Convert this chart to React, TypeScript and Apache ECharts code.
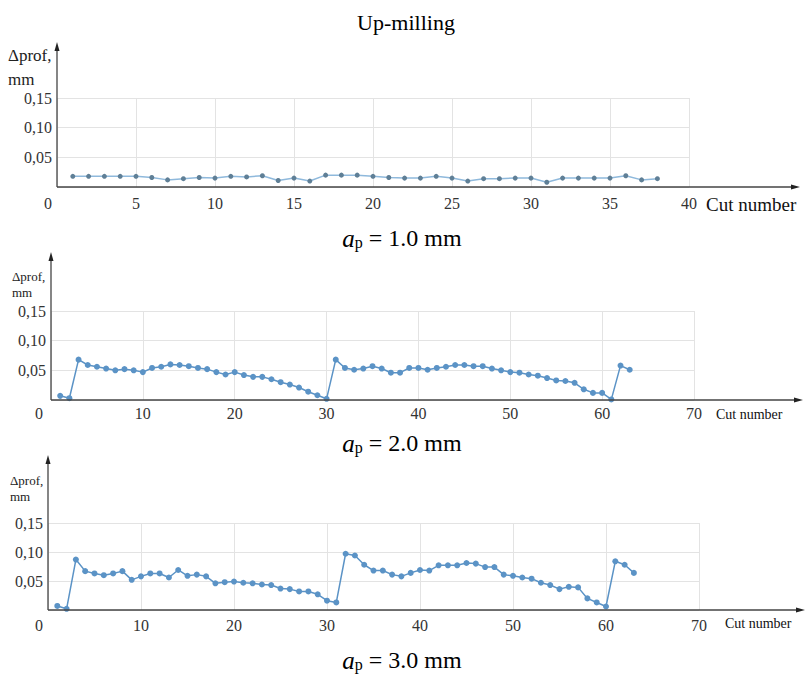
import React, { useEffect, useRef } from "react";
import * as echarts from "echarts";

// ---- Data ----
const cuts1Values = [
  0.018, 0.018, 0.018, 0.018, 0.018, 0.016, 0.012, 0.014, 0.016, 0.015,
  0.018, 0.017, 0.019, 0.011, 0.015, 0.01, 0.02, 0.02, 0.02, 0.018,
  0.016, 0.015, 0.015, 0.018, 0.015, 0.01, 0.014, 0.014, 0.015, 0.015,
  0.008, 0.015, 0.015, 0.015, 0.015, 0.019, 0.012, 0.014,
];
const cuts2Values = [
  0.007, 0.003, 0.068, 0.059, 0.056, 0.053, 0.05, 0.052, 0.05, 0.047,
  0.054, 0.056, 0.06, 0.059, 0.057, 0.054, 0.052, 0.047, 0.043, 0.047,
  0.042, 0.039, 0.039, 0.035, 0.03, 0.026, 0.021, 0.014, 0.008, 0.002,
  0.068, 0.054, 0.051, 0.053, 0.057, 0.053, 0.046, 0.046, 0.054, 0.054,
  0.051, 0.054, 0.056, 0.059, 0.059, 0.057, 0.057, 0.053, 0.05, 0.047,
  0.046, 0.043, 0.041, 0.037, 0.033, 0.032, 0.029, 0.018, 0.012, 0.012,
  0.001, 0.058, 0.051,
];
const cuts3Values = [
  0.007, 0.002, 0.087, 0.067, 0.063, 0.06, 0.063, 0.067, 0.052, 0.058,
  0.063, 0.063, 0.056, 0.069, 0.059, 0.061, 0.058, 0.046, 0.048, 0.049,
  0.047, 0.046, 0.044, 0.043, 0.037, 0.036, 0.032, 0.032, 0.027, 0.016,
  0.013, 0.097, 0.094, 0.078, 0.068, 0.068, 0.061, 0.058, 0.064, 0.069,
  0.068, 0.077, 0.077, 0.077, 0.081, 0.08, 0.074, 0.074, 0.061, 0.059,
  0.056, 0.054, 0.047, 0.043, 0.036, 0.04, 0.039, 0.02, 0.013, 0.006,
  0.084, 0.078, 0.064,
];
const xMax = [40, 70, 70];
const xInterval = [5, 10, 10];
const yTicks = [0, 0.05, 0.1, 0.15];
const title = "Up-milling";
const captions = ["1.0", "2.0", "3.0"];
const yName = ["Δprof,", "mm"];
const xName = "Cut number";

// ---- Layout (decoration only) ----
const FONT = "Liberation Serif";
const grids = [
  { left: 57, top: 98, width: 632, height: 89 },
  { left: 51, top: 311, width: 643, height: 89 },
  { left: 48, top: 523, width: 651, height: 87 },
];
const arrowTop = [42, 252, 455];
const arrowRight = [800, 803, 805];
const zeroPad = [18, 24, 18];
const tickFont = [16, 16, 16];
const xLabelMargin = [8, 5, 7];
const yNamePos = [
  { x: 8, y1: 55, y2: 79, size: 17 },
  { x: 12, y1: 276, y2: 292, size: 13 },
  { x: 10, y1: 480, y2: 496, size: 13 },
];
const xNamePos = [
  { x: 706, y: 204, size: 19 },
  { x: 716, y: 414, size: 14 },
  { x: 725, y: 623, size: 14 },
];
const captionY = [238, 443, 660];

const toPairs = (vals: number[]) => vals.map((v, i) => [i + 1, v]);

export default function App() {
  const ref = useRef<HTMLDivElement>(null);
  useEffect(() => {
    document.body.style.margin = "0";
    const chart = echarts.init(ref.current!, undefined, { renderer: "svg" });
    const allVals = [cuts1Values, cuts2Values, cuts3Values];

    const xAxis = grids.map((_, i) => ({
      type: "value",
      gridIndex: i,
      min: 0,
      max: xMax[i],
      interval: xInterval[i],
      axisLine: { show: false },
      axisTick: { show: false },
      splitLine: { show: true, lineStyle: { color: "#e3e3e3", width: 1 } },
      axisLabel: {
        fontFamily: FONT,
        fontSize: tickFont[i],
        color: "#333",
        margin: xLabelMargin[i],
        formatter: (v: number) => (v === 0 ? "{z|0}" : String(v)),
        rich: {
          z: {
            fontFamily: FONT,
            fontSize: tickFont[i],
            color: "#333",
            padding: [0, zeroPad[i], 0, 0],
          },
        },
      },
    }));
    const yAxis = grids.map((_, i) => ({
      type: "value",
      gridIndex: i,
      min: yTicks[0],
      max: yTicks[yTicks.length - 1],
      interval: 0.05,
      axisLine: { show: false },
      axisTick: { show: false },
      splitLine: { show: true, lineStyle: { color: "#e3e3e3", width: 1 } },
      axisLabel: {
        fontFamily: FONT,
        fontSize: tickFont[i],
        color: "#333",
        margin: 5,
        formatter: (v: number) =>
          v === 0 ? "" : v.toFixed(2).replace(".", ","),
      },
    }));

    const series = allVals.map((vals, i) => ({
      type: "line",
      xAxisIndex: i,
      yAxisIndex: i,
      data: toPairs(vals),
      symbol: "circle",
      symbolSize: i === 0 ? 5 : 6,
      showSymbol: true,
      lineStyle: { color: i === 0 ? "#8fb9dc" : "#5b93c6", width: 1.5 },
      itemStyle: { color: i === 0 ? "#5f7f96" : "#5b93c6" },
      z: 5,
    }));

    const graphic: any[] = [];
    grids.forEach((g, i) => {
      const ox = g.left;
      const oy = g.top + g.height;
      graphic.push({
        type: "line",
        shape: { x1: ox, y1: oy, x2: ox, y2: arrowTop[i] + 4 },
        style: { stroke: "#444", lineWidth: 1.3 },
        z: 10,
      });
      graphic.push({
        type: "polygon",
        shape: {
          points: [
            [ox - 2.5, arrowTop[i] + 9],
            [ox + 2.5, arrowTop[i] + 9],
            [ox, arrowTop[i]],
          ],
        },
        style: { fill: "#222" },
        z: 10,
      });
      graphic.push({
        type: "line",
        shape: { x1: ox, y1: oy, x2: arrowRight[i] - 4, y2: oy },
        style: { stroke: "#444", lineWidth: 1.3 },
        z: 10,
      });
      graphic.push({
        type: "polygon",
        shape: {
          points: [
            [arrowRight[i] - 9, oy - 2.5],
            [arrowRight[i] - 9, oy + 2.5],
            [arrowRight[i], oy],
          ],
        },
        style: { fill: "#222" },
        z: 10,
      });
      const yn = yNamePos[i];
      graphic.push({
        type: "text",
        x: yn.x,
        y: yn.y1,
        style: {
          text: yName[0],
          fontFamily: FONT,
          fontSize: yn.size,
          fill: "#222",
          verticalAlign: "middle",
        },
      });
      graphic.push({
        type: "text",
        x: yn.x,
        y: yn.y2,
        style: {
          text: yName[1],
          fontFamily: FONT,
          fontSize: yn.size,
          fill: "#222",
          verticalAlign: "middle",
        },
      });
      const xn = xNamePos[i];
      graphic.push({
        type: "text",
        x: xn.x,
        y: xn.y,
        style: {
          text: xName,
          fontFamily: FONT,
          fontSize: xn.size,
          fill: "#111",
          verticalAlign: "middle",
        },
      });
      graphic.push({
        type: "text",
        x: 402,
        y: captionY[i],
        style: {
          text: `{i|a}{s|p}{n| = ${captions[i]} mm}`,
          align: "center",
          verticalAlign: "middle",
          rich: {
            i: { fontFamily: FONT, fontStyle: "italic", fontSize: 25, fill: "#000" },
            s: {
              fontFamily: FONT,
              fontSize: 16,
              fill: "#000",
              verticalAlign: "bottom",
            },
            n: { fontFamily: FONT, fontSize: 24, fill: "#000" },
          },
        },
      });
    });
    graphic.push({
      type: "text",
      x: 406,
      y: 22,
      style: {
        text: title,
        fontFamily: FONT,
        fontSize: 22,
        fill: "#000",
        align: "center",
        verticalAlign: "middle",
      },
    });

    chart.setOption({
      animation: false,
      backgroundColor: "#fff",
      grid: grids.map((g) => ({ ...g, containLabel: false })),
      xAxis,
      yAxis,
      series,
      graphic,
    });
    return () => chart.dispose();
  }, []);
  return (
    <div
      ref={ref}
      style={{ position: "absolute", left: 0, top: 0, width: 809, height: 677 }}
    />
  );
}
